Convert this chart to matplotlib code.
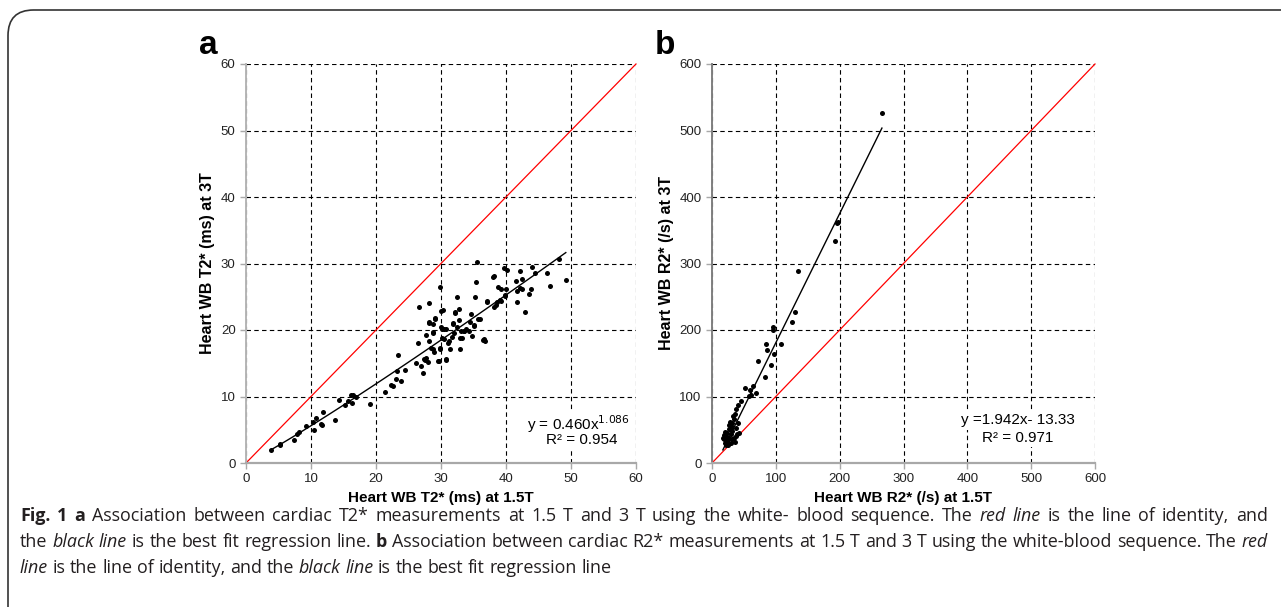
import matplotlib
matplotlib.use('Agg')
import matplotlib.pyplot as plt
import numpy as np
from matplotlib import font_manager
from matplotlib.patches import FancyBboxPatch

# panel a: heart WB T2* (ms), 1.5T vs 3T
t2_15 = [3.8, 5.3, 5.2, 7.4, 7.8, 8.1, 9.3, 10.4, 10.3, 10.8, 11.5, 11.7, 11.9, 13.7, 14.3,
         15.3, 15.7, 16.1, 16.3, 16.5, 16.9, 19.0, 21.4, 22.3, 22.6, 23.0, 23.3, 23.4, 23.8,
         24.4, 26.1, 26.6, 26.9, 27.2, 27.4, 27.7, 26.4, 27.7, 28.1, 28.2, 28.2, 28.7, 29.1,
         28.4, 28.7, 28.8, 29.5, 29.8, 29.9, 30.0, 30.3, 30.4, 30.2, 30.5, 30.7, 30.8, 31.1,
         31.4, 31.8, 32.0, 32.1, 32.4, 32.5, 32.8, 32.8, 32.9, 33.1, 33.5, 33.9, 34.3, 34.6,
         34.8, 35.1, 35.3, 35.4, 35.5, 36.0, 36.6, 36.8, 37.1, 38.1, 38.2, 38.4, 38.7, 39.0,
         39.3, 39.7, 39.9, 40.0, 41.5, 41.7, 41.7, 42.1, 42.2, 42.5, 42.5, 42.9, 43.6, 43.9,
         44.0, 44.5, 46.3, 46.8, 48.2, 49.2,
         28.1, 28.7, 29.0, 30.2, 30.0, 29.8, 29.7, 30.7, 31.3, 31.7, 31.9, 32.1, 32.9, 33.2,
         33.6, 34.5, 35.1, 35.7, 36.5, 37.0, 38.0, 38.6, 39.2, 39.8, 40.2, 27.6, 28.0, 28.9]
t2_3 = [1.9, 2.9, 2.7, 3.5, 4.4, 4.7, 5.6, 4.9, 6.1, 6.8, 5.9, 5.7, 7.7, 6.5, 9.5,
        8.7, 9.3, 10.3, 9.0, 10.2, 9.9, 8.9, 10.7, 11.7, 11.6, 12.6, 13.9, 16.3, 12.4,
        14.0, 15.0, 23.4, 14.6, 13.6, 15.6, 15.8, 18.1, 19.2, 18.3, 24.0, 21.2, 20.9, 21.8,
        17.3, 17.1, 19.7, 15.4, 17.3, 26.5, 20.5, 23.0, 20.2, 18.8, 18.6, 15.6, 20.1, 18.1,
        17.1, 21.1, 19.6, 22.7, 25.0, 20.5, 23.2, 21.5, 18.8, 19.8, 19.9, 20.1, 19.8, 22.4,
        19.1, 20.7, 24.9, 27.2, 30.2, 21.6, 18.6, 18.3, 24.3, 23.4, 28.1, 23.8, 26.4, 24.5,
        26.1, 29.3, 25.1, 26.2, 27.3, 24.2, 25.8, 28.9, 26.3, 27.6, 26.1, 22.7, 25.4, 26.1,
        29.4, 28.6, 28.6, 26.6, 30.7, 27.5,
        21.1, 19.6, 21.6, 20.1, 22.8, 17.2, 15.3, 15.5, 18.4, 18.9, 20.9, 22.6, 17.2, 18.8,
        19.8, 21.2, 20.6, 21.7, 18.5, 24.2, 27.9, 24.2, 24.3, 25.3, 29.0, 15.5, 15.2, 16.7]

# panel b: heart WB R2* (/s), 1.5T vs 3T
r2_15 = [266.2, 195.8, 197.0, 192.0, 135.5, 130.2, 124.9, 94.8, 96.3, 107.5, 84.2, 86.8,
         96.8, 92.1, 83.7, 72.1, 51.4, 64.6, 59.4, 61.4, 68.9, 58.3, 45.1, 41.3, 38.1, 35.6,
         34.0, 41.3, 31.7, 29.2, 37.1, 26.5, 31.7, 23.8, 42.4, 29.2, 21.3, 26.5, 18.6, 23.8,
         31.7, 37.1, 20.2, 25.4, 21.3, 29.2, 34.0, 39.6, 17.0, 22.0, 19.5, 27.0, 33.0, 24.5,
         20.5, 28.0, 30.5, 25.0, 22.5, 35.5]
r2_3 = [527.0, 361.0, 362.0, 333.4, 288.0, 226.4, 211.4, 204.8, 200.3, 178.3, 178.3, 170.2,
        163.7, 146.7, 129.5, 153.2, 112.5, 116.0, 109.5, 102.0, 106.0, 101.0, 93.4, 86.9,
        80.9, 73.3, 65.8, 60.8, 60.8, 55.7, 53.3, 50.8, 48.2, 45.8, 45.8, 44.1, 40.7, 38.2,
        35.7, 33.2, 35.7, 40.7, 29.7, 26.7, 26.7, 30.7, 38.2, 44.1, 38.2, 32.0, 42.0, 57.0,
        70.0, 36.0, 46.0, 62.0, 52.0, 30.0, 28.0, 31.0]

# fits as printed on the chart
a_coef, a_exp = 0.460, 1.086
b_slope, b_icpt = 1.942, -13.33

W, H = 1281, 607
fig = plt.figure(figsize=(W / 100, H / 100), dpi=100)

FONT = 'Liberation Sans'
def has_font(name):
    try:
        font_manager.findfont(font_manager.FontProperties(family=name), fallback_to_default=False)
        return True
    except Exception:
        return False
CAP_FONT = 'Liberation Sans Narrow' if has_font('Liberation Sans Narrow') else 'Open Sans'

# rounded frame around the whole figure
frame = FancyBboxPatch((8 / W, -0.05), 1.2, 1.0 - 10 / H + 0.05,
                       boxstyle='round,pad=0,rounding_size=0.02', transform=fig.transFigure,
                       fc='none', ec='#333333', lw=1.2, zorder=-5, mutation_aspect=W / H)
fig.patches.append(frame)


def style(ax, lim, step, xl, yl, spine_col):
    ax.set_xlim(0, lim); ax.set_ylim(0, lim)
    ticks = np.arange(0, lim + step, step)
    ax.set_xticks(ticks); ax.set_yticks(ticks)
    ax.grid(True, color='black', ls=(0, (4, 3)), lw=0.8)
    ax.set_axisbelow(True)
    ax.patch.set_alpha(0)
    for s in ['top', 'right']:
        ax.spines[s].set_visible(False)
    ax.spines['bottom'].set_color('#a8a8a8'); ax.spines['bottom'].set_linewidth(1.6)
    ax.spines['left'].set_color(spine_col); ax.spines['left'].set_linewidth(1.4)
    ax.tick_params(colors='#a8a8a8', length=4, width=1, labelcolor='#222222', labelsize=9.5)
    for lab in ax.get_xticklabels() + ax.get_yticklabels():
        lab.set_family(FONT)
    ax.set_xlabel(xl, fontsize=11, fontweight='bold', family=FONT, labelpad=4)
    ax.set_ylabel(yl, fontsize=11.5, fontweight='bold', family=FONT, labelpad=4)


box = dict(fc='white', ec='none', pad=1.5)

ax1 = fig.add_axes([246 / W, 1 - 463 / H, 390 / W, 399 / H])
ax1.plot([0, 60], [0, 60], color='red', lw=0.9, zorder=2, clip_on=False)
xf = np.linspace(min(t2_15), max(t2_15), 100)
ax1.plot(xf, a_coef * xf ** a_exp, color='black', lw=1.0, zorder=3)
ax1.scatter(t2_15, t2_3, s=13, color='black', zorder=4, linewidths=0)
style(ax1, 60, 10, 'Heart WB T2* (ms) at 1.5T', 'Heart WB T2* (ms) at 3T', '#b5b5b5')
ax1.text(51.1, 5.9, r'y = 0.460x$^{1.086}$', ha='center', va='center', fontsize=11,
         family=FONT, bbox=box, zorder=5)
ax1.text(51.7, 3.4, 'R² = 0.954', ha='center', va='center', fontsize=11, family=FONT,
         bbox=box, zorder=5)

ax2 = fig.add_axes([712 / W, 1 - 463 / H, 383 / W, 399 / H])
ax2.plot([0, 600], [0, 600], color='red', lw=0.9, zorder=2, clip_on=False)
xf = np.linspace(min(r2_15), max(r2_15), 100)
ax2.plot(xf, b_slope * xf + b_icpt, color='black', lw=1.0, zorder=3)
ax2.scatter(r2_15, r2_3, s=13, color='black', zorder=4, linewidths=0)
style(ax2, 600, 100, 'Heart WB R2* (/s) at 1.5T', 'Heart WB R2* (/s) at 3T', '#808080')
ax2.text(479, 64, 'y =1.942x- 13.33', ha='center', va='center', fontsize=11, family=FONT,
         bbox=box, zorder=5)
ax2.text(479, 38, 'R² = 0.971', ha='center', va='center', fontsize=11, family=FONT,
         bbox=box, zorder=5)

fig.text(208 / W, 1 - 45 / H, 'a', fontsize=24, fontweight='bold', family=FONT, ha='center', va='center')
fig.text(665 / W, 1 - 45 / H, 'b', fontsize=24, fontweight='bold', family=FONT, ha='center', va='center')

# caption with mixed styles, placed word by word
cap_lines = [
    [('Fig. 1', 'bold', 'normal'), ('a', 'bold', 'normal'),
     ('Association between cardiac T2* measurements at 1.5 T and 3 T using the white- blood sequence. The', 'normal', 'normal'),
     ('red line', 'normal', 'italic'), ('is the line of identity, and', 'normal', 'normal')],
    [('the', 'normal', 'normal'), ('black line', 'normal', 'italic'),
     ('is the best fit regression line.', 'normal', 'normal'), ('b', 'bold', 'normal'),
     ('Association between cardiac R2* measurements at 1.5 T and 3 T using the white-blood sequence. The', 'normal', 'normal'),
     ('red', 'normal', 'italic')],
    [('line', 'normal', 'italic'), ('is the line of identity, and the', 'normal', 'normal'),
     ('black line', 'normal', 'italic'), ('is the best fit regression line', 'normal', 'normal')],
]
cap_y = [521, 547, 573]
justify = [True, True, False]
X0, X1 = 20.0, 1268.0
renderer = fig.canvas.get_renderer()


def wwidth(s, size, weight, style_):
    t = fig.text(0, 0, s, fontsize=size, fontweight=weight, fontstyle=style_, family=CAP_FONT)
    w = t.get_window_extent(renderer).width
    t.remove()
    return w


def words(line):
    return [(w, wt, st) for txt, wt, st in line for w in txt.split(' ')]


def natural(line, size, sp):
    ws = words(line)
    return sum(wwidth(w, size, wt, st) for w, wt, st in ws) + sp * (len(ws) - 1)


base = 10.0
sp0 = wwidth('a a', base, 'normal', 'normal') - wwidth('aa', base, 'normal', 'normal')
widest = max(natural(l, base, sp0) for l in cap_lines)
cap_size = base * (X1 - X0 - 4) / widest
sp = wwidth('a a', cap_size, 'normal', 'normal') - wwidth('aa', cap_size, 'normal', 'normal')

for line, y, just in zip(cap_lines, cap_y, justify):
    ws = words(line)
    gap = sp
    if just:
        gap = sp + (X1 - X0 - natural(line, cap_size, sp)) / (len(ws) - 1)
    x = X0
    for w, wt, st in ws:
        fig.text(x / W, 1 - y / H, w, fontsize=cap_size, fontweight=wt, fontstyle=st,
                 family=CAP_FONT, color='#231f20', va='baseline', ha='left')
        x += wwidth(w, cap_size, wt, st) + gap

fig.savefig('out.png', dpi=100)
